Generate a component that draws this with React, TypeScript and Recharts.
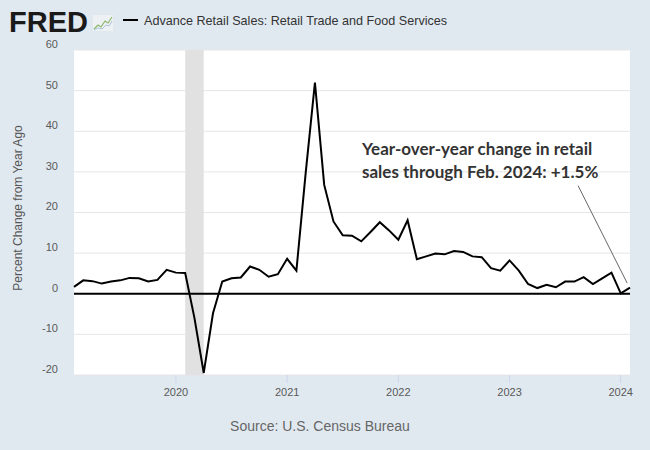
import { LineChart, Line, XAxis, YAxis, CartesianGrid, ReferenceArea, ReferenceLine } from "recharts"

// monthly observations, Feb 2019 .. Feb 2024
const months = [
  "2019-02", "2019-03", "2019-04", "2019-05", "2019-06", "2019-07", "2019-08", "2019-09", "2019-10", "2019-11", "2019-12",
  "2020-01", "2020-02", "2020-03", "2020-04", "2020-05", "2020-06", "2020-07", "2020-08", "2020-09", "2020-10", "2020-11", "2020-12",
  "2021-01", "2021-02", "2021-03", "2021-04", "2021-05", "2021-06", "2021-07", "2021-08", "2021-09", "2021-10", "2021-11", "2021-12",
  "2022-01", "2022-02", "2022-03", "2022-04", "2022-05", "2022-06", "2022-07", "2022-08", "2022-09", "2022-10", "2022-11", "2022-12",
  "2023-01", "2023-02", "2023-03", "2023-04", "2023-05", "2023-06", "2023-07", "2023-08", "2023-09", "2023-10", "2023-11", "2023-12",
  "2024-01", "2024-02",
]

const pctChange = [
  1.7, 3.3, 3.1, 2.5, 3.0, 3.3, 3.9, 3.8, 3.0, 3.4, 5.9,
  5.2, 5.1, -6.0, -19.5, -4.8, 3.0, 3.8, 4.0, 6.7, 5.9, 4.2, 4.8,
  8.6, 5.7, 29.7, 52.0, 26.8, 17.8, 14.4, 14.3, 12.9, 15.2, 17.6, 15.6,
  13.3, 18.1, 8.5, 9.2, 9.9, 9.7, 10.5, 10.3, 9.2, 9.0, 6.3, 5.7,
  8.2, 5.7, 2.4, 1.4, 2.2, 1.6, 3.0, 3.0, 4.1, 2.4, 3.8, 5.2,
  0.1, 1.5,
]

const yTicks = [-20, -10, 0, 10, 20, 30, 40, 50, 60]
const recession = ["2020-02", "2020-04"]
// annotation pointer, in data units (month index, percent)
const pointer = [
  { x: 54.4, y: 26.6 },
  { x: 59.7, y: 2.6 },
]

const data = months.map((m, i) => ({ t: i, value: pctChange[i] }))
const xTicks = months.map((m, i) => (m.endsWith("-01") ? i : -1)).filter((i) => i >= 0)

const sans = "'Liberation Sans', Arial, sans-serif"
const noteFont = "Lato, 'Open Sans', sans-serif"

function YTick({ x, y, payload }: any) {
  return (
    <text x={x} y={y - 6} dy="0.355em" textAnchor="end" fill="#595959" fontSize={11} fontFamily={sans}>
      {payload.value}
    </text>
  )
}

function XTick({ x, y, payload }: any) {
  return (
    <text x={x} y={y} dy="0.71em" textAnchor="middle" fill="#595959" fontSize={11} fontFamily={sans}>
      {months[payload.value].slice(0, 4)}
    </text>
  )
}

export default function App() {
  return (
    <div style={{ position: "absolute", top: 0, left: 0, width: 650, height: 450, background: "#e1e9f0" }}>
      <LineChart width={650} height={450} data={data} margin={{ top: 50, right: 20, left: 14, bottom: 45 }}>
        <CartesianGrid horizontal vertical={false} stroke="#e6e6e6" fill="#ffffff" />
        <ReferenceArea
          x1={months.indexOf(recession[0])}
          x2={months.indexOf(recession[1])}
          fill="#e1e1e1"
          fillOpacity={1}
          stroke="none"
        />
        <XAxis
          dataKey="t"
          type="number"
          domain={[0, months.length - 1]}
          ticks={xTicks}
          interval={0}
          axisLine={false}
          tickLine={{ stroke: "#ccd6eb" }}
          tickSize={8}
          tickMargin={5}
          height={30}
          tick={<XTick />}
        />
        <YAxis
          type="number"
          domain={[-20, 60]}
          ticks={yTicks}
          interval={0}
          axisLine={false}
          tickLine={false}
          tickMargin={10}
          width={60}
          tick={<YTick />}
        />
        <ReferenceLine y={0} stroke="#000" strokeWidth={2} />
        <ReferenceLine segment={pointer} stroke="#666" strokeWidth={1} />
        <Line
          dataKey="value"
          type="linear"
          stroke="#000"
          strokeWidth={2}
          dot={false}
          isAnimationActive={false}
        />
      </LineChart>
      <svg width={650} height={450} style={{ position: "absolute", top: 0, left: 0, pointerEvents: "none" }}>
        <text x={9} y={32} fontFamily={sans} fontWeight={900} fontSize={29} fill="#1a1a1a">
          FRED
        </text>
        <rect x={93} y={15} width={20} height={16} fill="#eef1f3" />
        <polyline points="94,29 98,25 101,27 105,21 108,23 112,17" fill="none" stroke="#8cb86a" strokeWidth={1.2} />
        <polyline points="94,30 98,28 102,29 106,25 109,26 112,21" fill="none" stroke="#a9c2da" strokeWidth={1} />
        <line x1={123} x2={138} y1={20} y2={20} stroke="#000" strokeWidth={2} />
        <text x={144} y={24.5} fontFamily={sans} fontSize={12.6} fill="#333">
          Advance Retail Sales: Retail Trade and Food Services
        </text>
        <text
          transform="translate(22,208) rotate(-90)"
          textAnchor="middle"
          fontFamily={sans}
          fontSize={12}
          fill="#555"
        >
          Percent Change from Year Ago
        </text>
        <text x={362} y={155} fontFamily={noteFont} fontWeight={700} fontSize={17} fill="#333">
          Year-over-year change in retail
        </text>
        <text x={362} y={178} fontFamily={noteFont} fontWeight={700} fontSize={17} fill="#333">
          sales through Feb. 2024: +1.5%
        </text>
        <text x={320} y={431} textAnchor="middle" fontFamily={sans} fontSize={14} fill="#666">
          Source: U.S. Census Bureau
        </text>
      </svg>
    </div>
  )
}
